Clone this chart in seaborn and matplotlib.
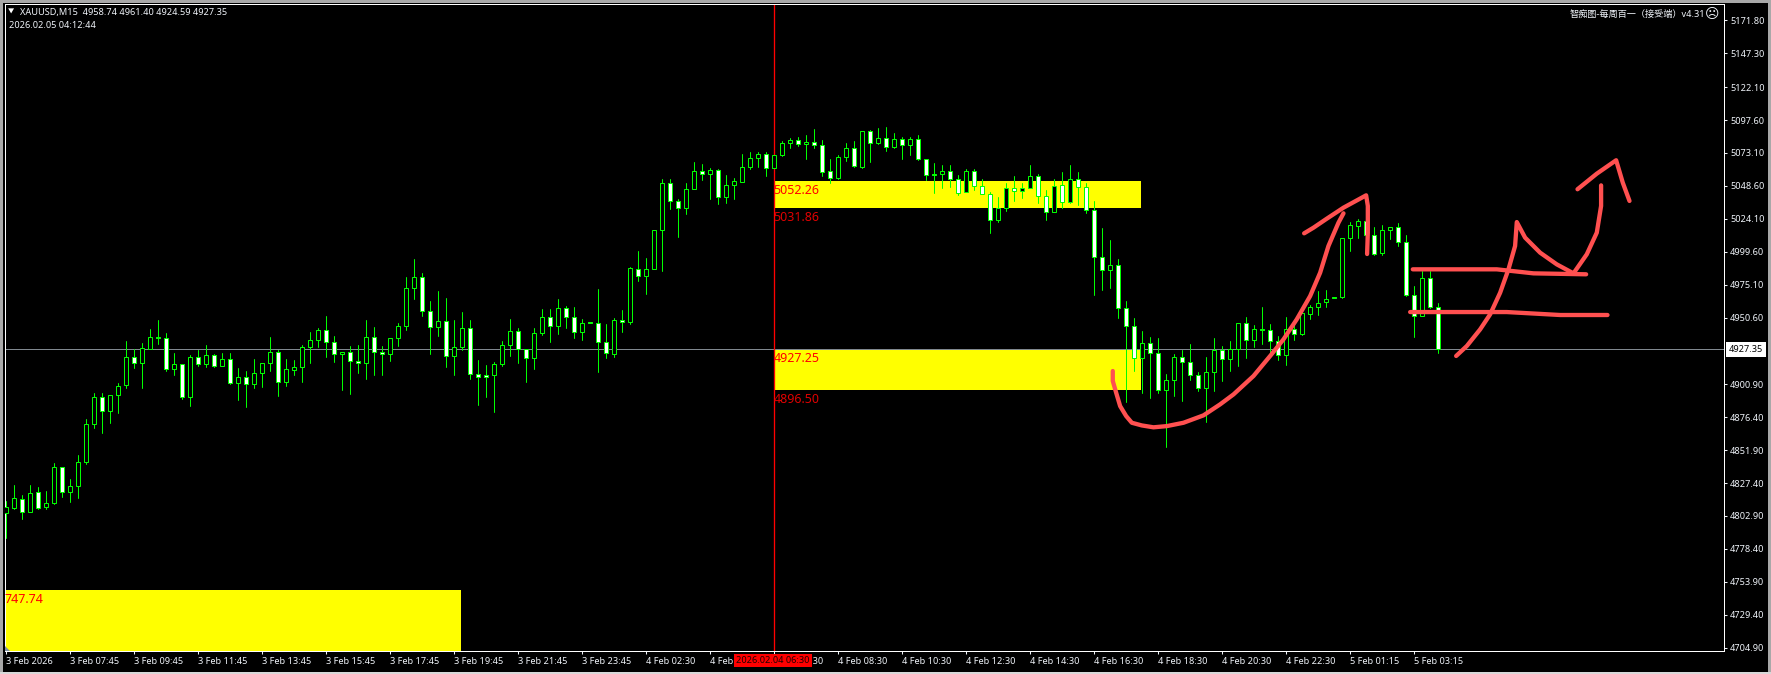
import matplotlib
matplotlib.use("Agg")
import matplotlib.pyplot as plt
import pandas as pd
import seaborn as sns

sns.set_theme(style="dark")
plt.rcParams['font.family'] = ['Noto Sans', 'Noto Sans CJK SC', 'DejaVu Sans']

# one value per M15 bar
highs = [4813.8,4825.7,4818.8,4825.7,4824.7,4821.7,4842.1,4839.6,4830.7,4848.5,
         4875.3,4894.2,4894.2,4893.2,4902.2,4933.4,4927.0,4931.9,4941.9,4948.6,
         4938.9,4924.0,4916.3,4922.5,4926.2,4929.9,4923.2,4924.0,4924.0,4912.8,
         4910.6,4919.6,4917.1,4935.9,4926.3,4919.6,4918.8,4930.5,4939.7,4942.6,
         4951.6,4936.7,4925.3,4929.2,4930.5,4948.6,4943.4,4929.2,4935.7,4946.4,
         4980.6,4994.0,4983.5,4962.7,4970.1,4964.9,4948.5,4954.5,4948.5,4918.8,
         4915.0,4917.8,4933.4,4949.3,4942.6,4927.4,4942.6,4956.7,4956.7,4964.2,
         4959.0,4958.2,4949.3,4946.8,4972.1,4945.6,4950.5,4956.0,4988.0,4999.9,
         4994.7,5016.1,5053.5,5053.5,5039.1,5050.6,5066.2,5064.7,5062.2,5061.5,
         5056.5,5054.8,5072.1,5073.6,5073.6,5074.1,5071.9,5081.8,5084.1,5085.3,
         5086.8,5090.8,5083.1,5068.4,5071.4,5080.3,5082.3,5089.8,5090.5,5091.5,
         5092.3,5087.8,5085.3,5085.3,5086.8,5068.9,5065.9,5064.5,5064.5,5057.0,
         5061.5,5061.0,5053.5,5044.3,5040.1,5050.6,5055.8,5050.6,5064.0,5057.8,
         5045.8,5054.0,5059.2,5064.0,5059.2,5051.0,5037.6,5017.5,5008.1,4994.0,
         4962.7,4950.0,4940.4,4936.4,4935.1,4908.8,4923.2,4926.2,4930.7,4910.3,
         4921.0,4935.1,4929.2,4932.9,4946.8,4950.8,4945.3,4958.2,4946.0,4937.1,
         4951.3,4946.3,4954.2,4959.7,4970.1,4970.9,4965.4,5010.1,5021.5,5023.7,
         5024.2,5018.3,5019.3,5018.3,5020.8,5012.3,4973.8,4985.0,4985.0,4961.4]
body_top = [4809.8,4816.3,4815.8,4820.2,4820.7,4812.8,4839.6,4839.6,4825.5,4843.1,
            4871.6,4891.7,4891.7,4893.2,4899.9,4921.5,4921.5,4928.2,4936.4,4936.4,
            4935.7,4916.3,4916.3,4921.5,4921.5,4923.0,4923.0,4920.0,4920.0,4906.6,
            4906.6,4909.6,4917.1,4925.3,4925.3,4912.6,4914.1,4929.0,4934.2,4941.6,
            4941.6,4932.7,4925.3,4925.3,4918.6,4936.4,4936.4,4925.3,4935.7,4944.6,
            4972.9,4981.1,4981.1,4955.7,4948.3,4948.3,4928.9,4943.1,4943.1,4908.6,
            4908.1,4916.3,4930.4,4940.8,4940.8,4927.4,4939.4,4951.3,4951.3,4958.0,
            4958.0,4951.3,4946.8,4946.8,4946.8,4932.7,4949.0,4949.0,4987.3,4987.0,
            4987.0,5016.1,5051.0,5051.0,5037.6,5046.6,5060.0,5060.0,5060.7,5060.7,
            5049.6,5052.5,5063.0,5069.7,5072.6,5072.6,5071.9,5080.8,5083.1,5083.1,
            5081.6,5081.6,5079.1,5060.0,5070.4,5077.1,5077.1,5089.8,5089.8,5084.6,
            5084.6,5083.8,5083.8,5083.8,5083.8,5068.9,5057.5,5059.7,5059.7,5053.8,
            5060.0,5060.0,5048.6,5042.9,5032.4,5047.3,5047.3,5047.3,5056.0,5056.0,
            5041.1,5048.6,5049.6,5054.0,5054.0,5048.1,5030.9,4995.7,4989.7,4989.7,
            4958.0,4944.3,4931.7,4931.7,4924.5,4904.1,4921.5,4921.5,4917.8,4908.1,
            4910.3,4926.7,4926.7,4927.4,4946.8,4946.8,4942.3,4941.6,4941.6,4933.1,
            4942.3,4942.3,4953.7,4958.7,4961.7,4964.7,4965.4,5010.1,5019.5,5022.7,
            5022.7,5012.1,5016.0,5018.3,5018.3,5007.1,4967.6,4980.3,4980.3,4958.7]
body_bottom = [4805.4,4808.8,4805.8,4805.8,4808.8,4809.3,4812.3,4820.7,4820.7,4825.2,
               4843.1,4871.4,4881.1,4881.1,4893.0,4900.4,4916.8,4916.8,4927.5,4935.4,
               4912.6,4912.3,4891.5,4891.5,4916.0,4916.0,4914.6,4914.6,4901.9,4901.9,
               4901.2,4901.2,4909.4,4916.8,4902.7,4902.7,4911.6,4913.8,4928.5,4934.0,
               4932.5,4923.5,4923.5,4918.3,4916.8,4916.8,4925.0,4923.5,4923.5,4935.4,
               4944.4,4972.7,4955.5,4943.6,4943.6,4922.0,4922.0,4928.4,4908.6,4906.6,
               4906.6,4907.8,4916.0,4930.2,4927.4,4920.5,4920.5,4939.1,4944.3,4944.3,
               4951.3,4939.9,4939.9,4946.8,4932.4,4924.2,4923.2,4947.3,4947.3,4981.6,
               4981.6,4986.8,5015.8,5037.4,5032.2,5032.2,5046.3,5057.5,5057.5,5040.4,
               5040.4,5049.3,5051.5,5062.7,5069.4,5062.0,5062.0,5071.7,5080.6,5079.8,
               5080.1,5079.1,5059.0,5054.5,5054.3,5069.9,5063.2,5062.5,5080.8,5080.6,
               5077.6,5077.6,5079.1,5079.1,5068.7,5056.8,5056.8,5057.5,5053.8,5043.4,
               5044.1,5048.8,5042.6,5023.5,5023.3,5032.4,5045.1,5045.1,5047.3,5041.4,
               5029.5,5029.5,5036.7,5036.7,5047.8,5030.9,4995.9,4986.0,4986.0,4958.0,
               4944.3,4920.5,4920.5,4924.2,4896.4,4896.4,4904.1,4917.8,4907.8,4898.1,
               4898.1,4910.1,4919.7,4919.7,4927.4,4933.9,4933.9,4941.6,4933.1,4923.0,
               4922.7,4938.6,4938.4,4953.2,4958.5,4962.2,4965.4,4965.9,5010.1,5018.8,
               5012.3,4997.9,4998.7,5015.8,5007.1,4967.4,4952.0,4952.0,4958.5,4927.35]
lows = [4786.3,4807.8,4800.4,4805.8,4807.8,4808.3,4811.6,4816.8,4813.3,4816.0,
        4841.3,4868.4,4864.4,4871.9,4879.3,4897.9,4912.8,4897.9,4927.5,4930.7,
        4910.6,4907.6,4889.7,4884.5,4914.3,4913.6,4913.6,4914.6,4900.9,4889.0,
        4883.8,4898.0,4898.7,4910.6,4892.3,4899.5,4907.6,4902.7,4916.6,4928.5,
        4921.0,4917.3,4896.5,4893.5,4909.1,4904.7,4907.6,4907.6,4918.1,4929.2,
        4941.1,4964.2,4951.8,4923.2,4936.6,4913.5,4907.6,4926.2,4904.6,4885.3,
        4891.2,4880.0,4914.3,4921.7,4916.5,4902.4,4912.1,4937.4,4932.2,4938.1,
        4942.6,4935.1,4933.9,4946.8,4909.8,4920.2,4921.0,4939.9,4945.6,4977.6,
        4967.9,4986.8,4985.0,5031.2,5010.3,5027.5,5046.3,5052.8,5038.6,5034.9,
        5035.7,5038.6,5051.5,5061.2,5062.5,5055.8,5062.0,5070.7,5076.6,5078.4,
        5068.4,5076.6,5055.8,5050.6,5053.5,5066.9,5062.5,5061.7,5066.2,5079.8,
        5074.4,5076.6,5068.4,5071.4,5067.9,5052.8,5043.1,5046.8,5047.6,5041.9,
        5044.1,5045.3,5042.6,5013.3,5021.5,5030.0,5037.2,5039.4,5047.3,5035.7,
        5023.0,5029.5,5032.4,5035.9,5034.2,5028.2,4967.2,4970.9,4972.4,4950.0,
        4887.5,4910.6,4894.7,4890.5,4894.7,4854.2,4892.0,4888.5,4904.1,4895.9,
        4872.6,4895.9,4903.1,4910.6,4914.3,4920.2,4928.4,4930.7,4924.5,4918.7,
        4915.0,4933.9,4937.6,4949.3,4952.3,4958.2,4965.4,4964.9,4999.9,5009.6,
        4997.7,4997.4,4997.2,5008.8,5003.9,4966.6,4935.9,4952.0,4957.5,4924.59]
# 1 = down bar (white body), 0 = up bar (black body)
is_bear = [0,0,1,0,1,0,0,1,0,0,0,0,1,0,0,0,1,0,0,1,1,0,1,0,1,0,1,0,1,0,
           1,0,0,0,1,0,0,0,0,0,1,1,0,1,1,0,1,1,0,0,0,0,1,1,0,1,0,0,1,1,
           1,0,0,0,1,1,0,0,1,0,1,1,0,1,1,1,0,1,0,1,0,0,0,1,1,0,0,1,0,1,
           0,0,0,0,0,1,0,0,0,1,0,1,1,1,0,0,1,0,1,0,1,0,1,0,1,1,1,0,1,1,
           0,1,1,1,0,0,1,0,0,1,1,0,1,0,1,1,1,1,0,1,1,1,0,1,1,0,0,1,1,1,
           0,0,1,0,0,1,0,1,1,1,0,1,0,0,0,0,1,0,0,0,1,1,0,0,1,1,1,0,1,1]

x_tick_bars = list(range(0, 184, 8))
x_tick_labels = ["3 Feb 2026","3 Feb 07:45","3 Feb 09:45","3 Feb 11:45","3 Feb 13:45",
                 "3 Feb 15:45","3 Feb 17:45","3 Feb 19:45","3 Feb 21:45","3 Feb 23:45",
                 "4 Feb 02:30","4 Feb 04:30","4 Feb 06:30","4 Feb 08:30","4 Feb 10:30",
                 "4 Feb 12:30","4 Feb 14:30","4 Feb 16:30","4 Feb 18:30","4 Feb 20:30",
                 "4 Feb 22:30","5 Feb 01:15","5 Feb 03:15"]
y_tick_values = [5171.80,5147.30,5122.10,5097.60,5073.10,5048.60,5024.10,4999.60,4975.10,
                 4950.60,4900.90,4876.40,4851.90,4827.40,4802.90,4778.40,4753.90,4729.40,4704.90]
last_price = 4927.35

# yellow zones: first bar, last bar, top price, bottom price
zone_left = [96, 96, -1]
zone_right = [141.9, 141.9, 56.9]
zone_top = [5052.26, 4927.25, 4747.74]
zone_bottom = [5031.86, 4896.50, 4690.0]

# hand drawn strokes, as (bar, price)
stroke_curve_x = [138.41,138.41,138.83,139.33,140.08,140.79,142.04,143.5,145.16,147.25,149.75,
                  151.83,153.5,156,158.08,159.75,161.41,163.08,164.33,165.37,166.62,167.25]
stroke_curve_y = [4910.8,4903.4,4894.7,4884.7,4877.3,4872.3,4870.3,4868.9,4869.8,4872.3,4877.8,
                  4886,4893.4,4907.1,4922,4934.4,4949.3,4966.6,4984,5003.9,5021.2,5028.2]
stroke_head_x = [162.33,163.5,165.16,167.25,170.08,170.29,170.29,170.2]
stroke_head_y = [5013.3,5017.5,5024.2,5032.4,5041.6,5033.7,5013.8,4997.9]
stroke_upper_x = [175.91,186.41,191,197.58]
stroke_upper_y = [4986.5,4986.5,4983.5,4982.8]
stroke_lower_x = [175.58,187.66,194.33,200.25]
stroke_lower_y = [4954.7,4954.7,4952.5,4952.5]
stroke_zig_x = [181.33,182.66,184.33,185.58,186.83,187.87,188.7,188.91,189.95,191.83,193.91,
                196,197.66,198.91,199.45,199.45]
stroke_zig_y = [4922,4929.4,4941.8,4953,4969.1,4986.5,5003.9,5021.7,5010.1,4998.9,4990.2,
                4983.5,4997.7,5013.8,5033.7,5049]
stroke_tip_x = [196.5,198.91,201.33,202.16,203]
stroke_tip_y = [5046.1,5057.7,5067.7,5051,5037.4]

bars = list(range(len(highs)))
wicks = pd.DataFrame({"bar": bars + bars, "price": highs + lows})

GREEN = "#00ff00"
YELLOW = "#ffff00"
RED = "#ff0000"
STROKE = "#ff5050"
TEXT = "#f0f4fa"
FONT = 6.6
ZONE_FONT = 9

fig = plt.figure(figsize=(17.71, 6.74), dpi=100, facecolor="black")
# plot area in pixels: x 4.5..1723.5, y 4..651
ax = fig.add_axes([4.5/1771, 1-651/674, (1723.5-4.5)/1771, (651-4)/674], facecolor="black")

ax.bar(zone_left, [t-b for t, b in zip(zone_top, zone_bottom)],
       width=[r-l for l, r in zip(zone_left, zone_right)], bottom=zone_bottom,
       align="edge", color=YELLOW, linewidth=0, zorder=1)

ax.axhline(last_price, color="#80888f", lw=0.72, zorder=1.5)
ax.axvline(96, color="#ff0000", lw=0.95, zorder=1.6)

sns.lineplot(data=wicks, x="bar", y="price", units="bar", estimator=None, color=GREEN,
             lw=0.72, ax=ax, zorder=2, legend=False)

body_colors = ["white" if b else "black" for b in is_bear]
ax.bar(bars, [max(t-b, 0.4) for t, b in zip(body_top, body_bottom)], width=0.5, bottom=body_bottom,
       color=body_colors, edgecolor=GREEN, linewidth=0.72, zorder=3)

for sx, sy in [(stroke_curve_x, stroke_curve_y), (stroke_head_x, stroke_head_y),
               (stroke_upper_x, stroke_upper_y), (stroke_lower_x, stroke_lower_y),
               (stroke_zig_x, stroke_zig_y), (stroke_tip_x, stroke_tip_y)]:
    sns.lineplot(x=sx, y=sy, sort=False, estimator=None, color=STROKE, lw=3.1, ax=ax, zorder=5,
                 solid_capstyle="round", solid_joinstyle="round")

# zone labels
ax.text(96, 5052.26-2, "5052.26", color=RED, fontsize=ZONE_FONT, va="top", ha="left", zorder=4)
ax.text(96, 5031.86-2, "5031.86", color="#e00000", fontsize=ZONE_FONT, va="top", ha="left", zorder=4)
ax.text(96, 4927.25-2, "4927.25", color=RED, fontsize=ZONE_FONT, va="top", ha="left", zorder=4)
ax.text(96, 4896.50-2, "4896.50", color="#e00000", fontsize=ZONE_FONT, va="top", ha="left", zorder=4)
ax.text(-0.1, 4747.74-2, "747.74", color=RED, fontsize=ZONE_FONT, va="top", ha="left", zorder=4)

ax.set_xlim(-0.125, 214.75)
ax.set_ylim(4702.4, 5184.0)
ax.yaxis.tick_right()
ax.set_yticks(y_tick_values)
ax.set_yticklabels([f"{v:.2f}" for v in y_tick_values])
ax.set_xticks(x_tick_bars)
ax.set_xticklabels(x_tick_labels, ha="left")
ax.tick_params(axis="both", colors=TEXT, labelsize=FONT, length=2.2, width=0.75, bottom=True, right=True,
               left=False, labelbottom=True, labelright=True, labelleft=False)
ax.tick_params(axis="x", pad=2)
ax.tick_params(axis="y", pad=2.5)
ax.set_xlabel("")
ax.set_ylabel("")
ax.grid(False)
for s in ax.spines.values():
    s.set_color("white")
    s.set_linewidth(0.72)
    s.set_visible(True)

# texts placed in figure pixels
def px(x, y):
    return x/1771, 1-y/674

fig.text(*px(7.5, 12.5), "\u25bc", color="white", fontsize=4.5, va="center", ha="left")
fig.text(*px(20, 12.5), "XAUUSD,M15  4958.74 4961.40 4924.59 4927.35", color=TEXT, fontsize=FONT, va="center", ha="left")
fig.text(*px(9, 25.5), "2026.02.05 04:12:44", color=TEXT, fontsize=FONT, va="center", ha="left")
fig.text(*px(1705, 14), "智痴图-每周百一（接受端）v4.31", color=TEXT, fontsize=FONT, va="center", ha="right")
fig.text(*px(1712.5, 14), "\u2639", color=TEXT, fontsize=10, va="center", ha="center", family="DejaVu Sans")

# last price box and crosshair time box
fig.text(*px(1729, 349.5), "4927.35", color="black", fontsize=FONT, va="center", ha="left",
         bbox=dict(facecolor="white", edgecolor="none", pad=2.2), zorder=6)
fig.text(*px(773, 660.5), "2026.02.04 06:30", color="#200000", fontsize=FONT, va="center", ha="center",
         bbox=dict(facecolor=RED, edgecolor="none", pad=1.8), zorder=6)

# small grey corner mark and window frame
fig.add_artist(plt.Polygon([(5/1771, 1-646/674), (5/1771, 1-651/674), (10/1771, 1-651/674)],
                           color="#8090a0", lw=0, transform=fig.transFigure))
for rect in [(0, 0, 1771, 3, "#a8a8a8"), (0, 0, 3, 674, "#a8a8a8"),
             (1768, 0, 3, 674, "#a8a8a8"), (0, 672, 1771, 2, "#d8d8d8")]:
    x0, y0, w, h, c = rect
    fig.add_artist(plt.Rectangle((x0/1771, 1-(y0+h)/674), w/1771, h/674, color=c, lw=0, transform=fig.transFigure))

fig.savefig("out.png", dpi=100, facecolor="black")
